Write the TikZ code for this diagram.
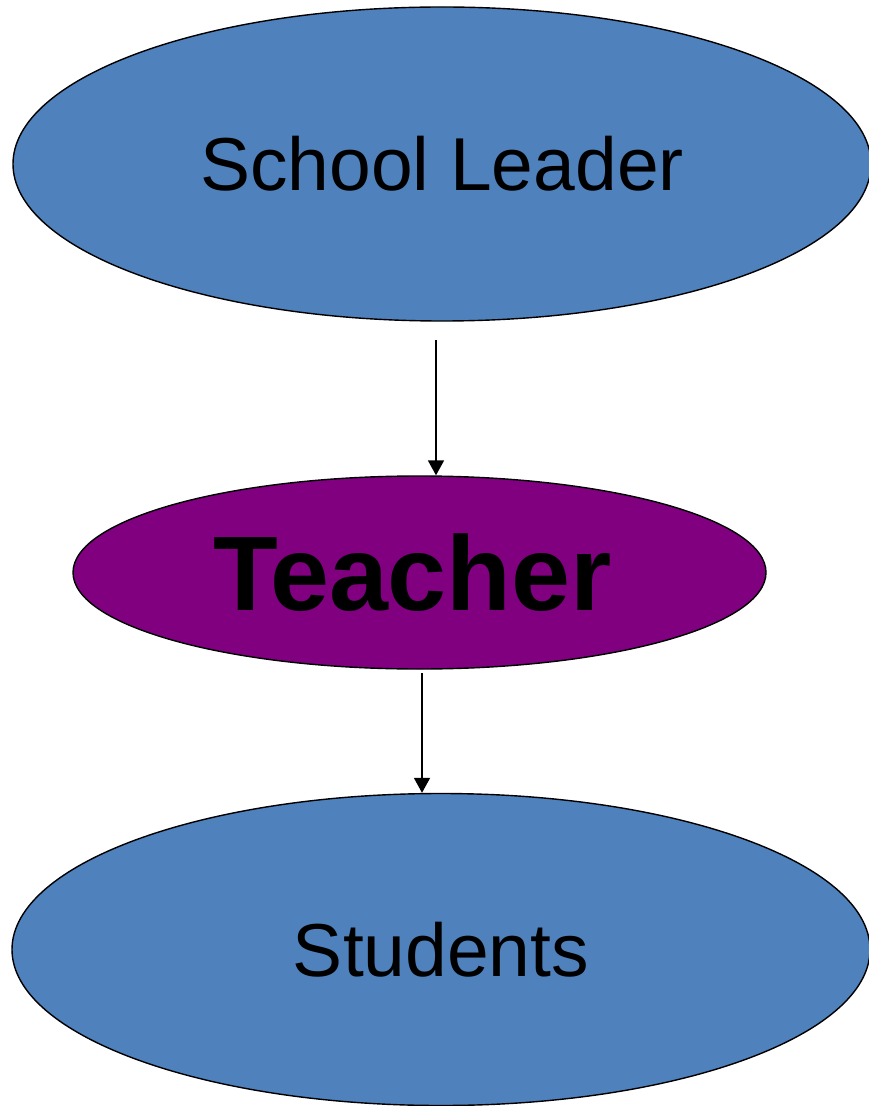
\documentclass[tikz,border=0pt]{standalone}
\usepackage{fontspec}
\setmainfont{Liberation Sans}
\usetikzlibrary{shapes.geometric,arrows.meta}
\definecolor{role}{HTML}{4F81BD}
\definecolor{key}{HTML}{800080}

\begin{document}
\begin{tikzpicture}[x=0.5pt,y=-0.5pt,
    bubble/.style={ellipse,draw,line width=0.7pt,inner sep=0pt},
    link/.style={line width=0.9pt,-{Triangle[width=8pt,length=7.5pt]}}]
      \useasboundingbox (0,0) rectangle (868,1106);

      \path
      (442,164) node[bubble,fill=role,minimum width=429pt,minimum height=157pt,
        font=\fontsize{37.5}{40}\selectfont](lead) {School Leader}
      (419.5,572.5) node[bubble,fill=key,minimum width=346.5pt,minimum height=96.5pt,
        font=\fontsize{53}{56}\selectfont\bfseries](teacher) {\kern-7pt Teacher}
      (441,949.5) node[bubble,fill=role,minimum width=429pt,minimum height=156pt,
        font=\fontsize{37.5}{40}\selectfont](pupils) {Students}
      (436,340) coordinate(l1)
      (422,673) coordinate(l2)
      ;

      \draw[link] (l1) -- (l1 |- teacher.north);
      \draw[link] (l2) -- (l2 |- pupils.north);
    \end{tikzpicture}
\end{document}
